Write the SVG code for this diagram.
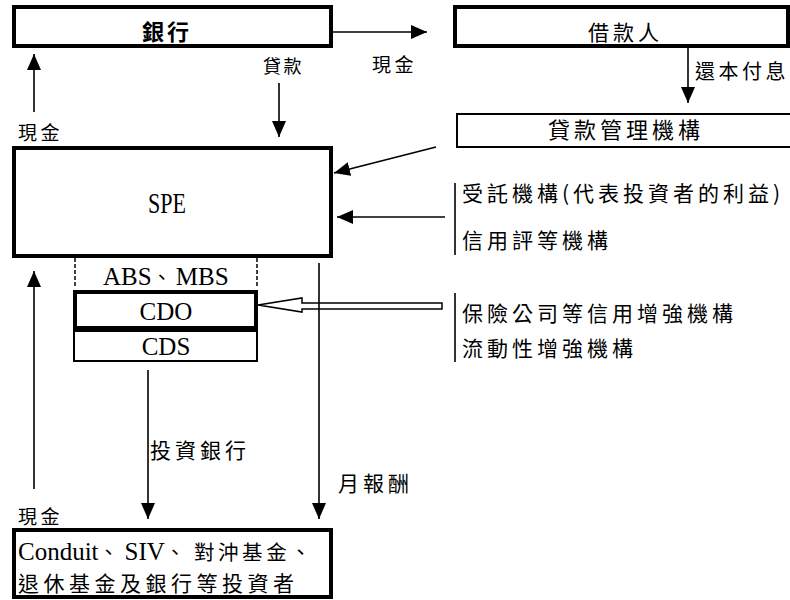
<svg xmlns="http://www.w3.org/2000/svg" width="790" height="600" viewBox="0 0 790 600">
<style>
.thick{fill:#fff;stroke:#000;stroke-width:4}
.thin{fill:#fff;stroke:#000;stroke-width:2}
.ln{fill:none;stroke:#000;stroke-width:1.6}
.cjk{font-family:"Noto Sans CJK TC","Noto Sans CJK SC",sans-serif;font-size:21px;letter-spacing:4px;fill:#000}
.lat{font-family:"Liberation Serif","Noto Sans CJK TC",serif;font-size:25px;fill:#000}
.cj{font-family:"Noto Sans CJK TC",sans-serif;font-size:20px}
</style>
<defs>
<marker id="ah" markerUnits="userSpaceOnUse" markerWidth="18" markerHeight="16" refX="16" refY="7" orient="auto">
<path d="M0,0 L16,7 L0,14 Z" fill="#000"/>
</marker>
</defs>
<rect width="790" height="600" fill="#fff"/>

<g id="bank">
<rect class="thick" x="14" y="7" width="317" height="39"/>
<text class="cjk" x="142" y="40" style="font-size:22px;font-weight:bold;letter-spacing:3px">銀行</text>
</g>
<g id="borrower">
<rect class="thick" x="455" y="7" width="333" height="39"/>
<text class="cjk" x="588" y="40">借款人</text>
</g>
<g id="servicer">
<rect class="thin" x="457" y="114" width="340" height="33"/>
<text class="cjk" x="548" y="138" style="font-size:22px">貸款管理機構</text>
</g>
<g id="spe">
<rect class="thick" x="14" y="148" width="317" height="108"/>
<text class="lat" x="148" y="213" style="font-size:30px" textLength="38" lengthAdjust="spacingAndGlyphs">SPE</text>
</g>
<g id="trustee">
<line class="ln" x1="455" y1="183" x2="455" y2="255"/>
<text class="cjk" x="462" y="201">受託機構(代表投資者的利益)</text>
<text class="cjk" x="462" y="248">信用評等機構</text>
</g>
<g id="enhancer">
<line class="ln" x1="455" y1="293" x2="455" y2="362"/>
<text class="cjk" x="462" y="321">保險公司等信用增強機構</text>
<text class="cjk" x="462" y="356">流動性增強機構</text>
</g>
<g id="abs">
<line x1="75" y1="258" x2="75" y2="288" stroke="#000" stroke-width="1.5" stroke-dasharray="4,2"/>
<line x1="257" y1="258" x2="257" y2="288" stroke="#000" stroke-width="1.5" stroke-dasharray="4,2"/>
<text class="lat" x="103" y="285">ABS<tspan class="cj" style="letter-spacing:4px">、</tspan><tspan textLength="53" lengthAdjust="spacingAndGlyphs">MBS</tspan></text>
</g>
<g id="cdo">
<rect class="thick" x="75" y="292" width="181" height="36"/>
<text class="lat" x="166" y="320" text-anchor="middle">CDO</text>
</g>
<g id="cds">
<rect class="thin" x="74" y="331" width="183" height="30"/>
<text class="lat" x="166" y="355" text-anchor="middle">CDS</text>
</g>
<g id="investors">
<rect class="thick" x="14" y="530" width="317" height="67"/>
<text class="lat" x="18" y="560">Conduit<tspan class="cj" style="letter-spacing:6px">、</tspan>SIV<tspan class="cj" style="letter-spacing:9px">、</tspan><tspan class="cj" style="font-size:20.5px;letter-spacing:3.6px">對沖基金、</tspan></text>
<text class="cjk" x="18" y="591" style="letter-spacing:4.5px">退休基金及銀行等投資者</text>
</g>

<g id="connectors">
<line class="ln" x1="333" y1="32" x2="427" y2="32" marker-end="url(#ah)"/>
<text class="cjk" x="372" y="72" style="font-size:19px;letter-spacing:3.5px">現金</text>
<line class="ln" x1="34" y1="112" x2="34" y2="54" marker-end="url(#ah)"/>
<text class="cjk" x="18" y="140" style="font-size:19px;letter-spacing:3.5px">現金</text>
<line class="ln" x1="279" y1="83" x2="279" y2="137" marker-end="url(#ah)"/>
<text class="cjk" x="263" y="73" style="font-size:18px;letter-spacing:2.5px">貸款</text>
<line class="ln" x1="688" y1="48" x2="688" y2="103" marker-end="url(#ah)"/>
<text class="cjk" x="695" y="79" style="font-size:20px;letter-spacing:3.5px">還本付息</text>
<line class="ln" x1="436" y1="147" x2="334" y2="173" marker-end="url(#ah)"/>
<line class="ln" x1="445" y1="217" x2="337" y2="217" marker-end="url(#ah)"/>
<polygon points="258,305 302,298 302,303 442,303 442,309 302,309 302,312" fill="#fff" stroke="#000" stroke-width="1.5"/>
<line class="ln" x1="319" y1="263" x2="319" y2="519" marker-end="url(#ah)"/>
<text class="cjk" x="338" y="491">月報酬</text>
<line class="ln" x1="148" y1="370" x2="148" y2="519" marker-end="url(#ah)"/>
<text class="cjk" x="150" y="458">投資銀行</text>
<line class="ln" x1="34" y1="489" x2="34" y2="271" marker-end="url(#ah)"/>
<text class="cjk" x="18" y="524" style="font-size:19px;letter-spacing:3.5px">現金</text>
</g>
</svg>
